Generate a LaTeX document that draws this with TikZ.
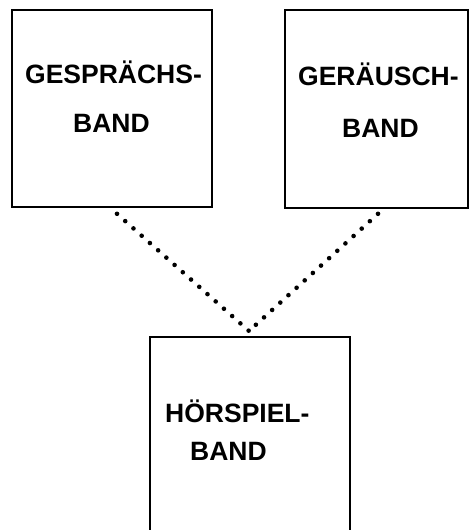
\documentclass[tikz,border=0pt]{standalone}
\usepackage{fontspec}
\setmainfont{Liberation Sans}
\usepackage{tikz}
\usetikzlibrary{calc}

\begin{document}
\begin{tikzpicture}[x=1pt,y=-1pt,
  band/.style={draw,line width=1.6pt,rectangle,inner sep=0pt},
  beschrift/.style={anchor=base west,inner sep=0pt,font=\fontsize{26.5}{30}\selectfont\bfseries},
  punkte/.style={line width=4.6pt,line cap=round,dash pattern=on 0pt off 11pt}]
\useasboundingbox (0,0) rectangle (474,530);
\node[band,minimum width=200pt,minimum height=197pt] (gespr) at (112,108.5) {};
\node[band,minimum width=183pt,minimum height=198pt] (geraeusch) at (376.5,109) {};
\node[band,minimum width=200pt,minimum height=210pt] (hoerspiel) at (250,442) {};
\node[beschrift] (g1) at (25,83) {GESPRÄCHS-};
\node[beschrift] (g2) at (73,132) {BAND};
\node[beschrift] (r1) at (298,85) {GERÄUSCH-};
\node[beschrift] (r2) at (342,137) {BAND};
\node[beschrift] (h1) at (165,422) {HÖRSPIEL-};
\node[beschrift] (h2) at (190,460) {BAND};
\coordinate (treff) at (249,331);
\draw[punkte] ($(gespr.south)+(5,6)$) -- (treff);
\draw[punkte] ($(geraeusch.south)+(1.5,5)$) -- (treff);
\end{tikzpicture}
\end{document}
